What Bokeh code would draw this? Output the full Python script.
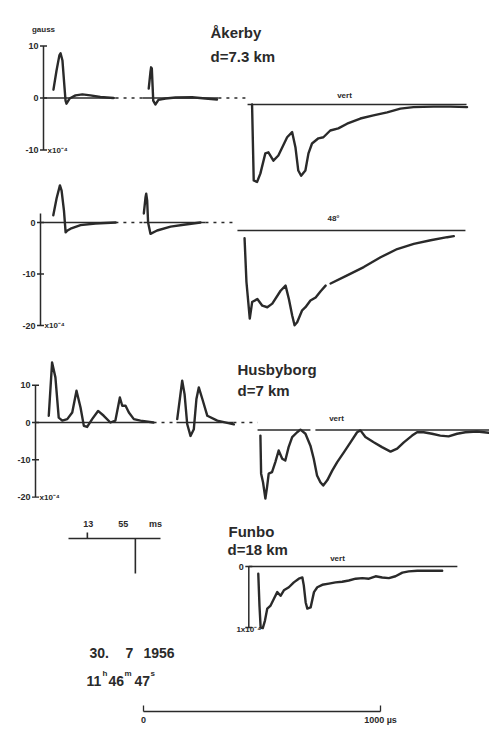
import numpy as np
from bokeh.plotting import figure
from bokeh.models import Range1d, LinearAxis, FixedTicker
from bokeh.core.properties import value
from bokeh.embed import file_html
from bokeh.resources import INLINE

nan = float("nan")

# ---------------- data: time in µs from onset of each record, field in 1e-4 gauss ----------------
# Åkerby, d = 7.3 km, vertical component
AK_P1_T = [0, 13, 25, 30, 38, 46, 51, 55, 68, 93, 122, 156, 198, 253]
AK_P1_V = [1.6, 5.3, 8.2, 8.6, 7.2, 2.4, -0.5, -1.1, -0.1, 0.5, 0.7, 0.5, 0.2, 0]
AK_P2_T = [0, 7, 10, 13, 19, 28, 41, 71, 113, 183, 239, 288]
AK_P2_V = [1.8, 4.9, 5.9, 5.7, -0.5, -1.25, -0.35, -0.1, 0.1, 0.15, -0.1, -0.3]
AK_MAIN_T = [0, 7, 21, 35, 56, 69, 90, 111, 148, 169, 183, 195, 207, 225, 238, 253, 280, 301,
             330, 364, 401, 457, 512, 570, 626, 681, 765, 837, 907]
AK_MAIN_V = [0, -14.6, -14.9, -13.3, -9.4, -9.2, -10.8, -9.8, -6.3, -5.3, -8.2, -12.7, -13.7, -12.7,
             -9.4, -7.5, -6.5, -6.3, -5.0, -4.6, -3.7, -2.7, -2.1, -1.5, -0.8, -0.5, -0.4, -0.4, -0.5]

# Åkerby, 48° component
AH_P1_T = [0, 14, 28, 35, 45, 52, 60, 73, 115, 178, 263]
AH_P1_V = [1.4, 4.7, 7.2, 6.2, 2.3, -1.9, -1.55, -1.2, -0.5, -0.2, 0]
AH_P2_T = [0, 7, 10, 14, 18, 28, 56, 113, 176, 239]
AH_P2_V = [1.75, 4.85, 5.6, 4.3, 0, -2.2, -1.55, -0.8, -0.4, 0]
AH_MAIN_T = [0, 8, 22, 32, 54, 75, 96, 117, 152, 173, 187, 201, 211, 222, 243, 257, 278, 300, 321, 342,
             nan, 363, 433, 503, 574, 644, 714, 785, 855, 883]
AH_MAIN_V = [-1.5, -10.0, -17.1, -13.9, -13.3, -14.6, -14.9, -14.2, -11.7, -10.7, -13.3, -16.5, -18.4,
             -17.8, -15.5, -14.9, -13.6, -13.0, -11.8, -10.7, nan, -10.3, -8.7, -7.1, -5.2, -3.6, -2.6,
             -1.9, -1.3, -1.1]

# Husbyborg, d = 7 km, vertical
HU_P1_T = [0, 14, 28, 42, 57, 78, 99, 117, 134, 148, 162, 183, 208, 232, 260, 281, 300, 310, 324, 338,
           359, 387, 442]
HU_P1_V = [1.8, 16.1, 12.1, 1.3, 0.5, 0.9, 2.7, 8.5, 4.0, -0.9, -1.2, 0.9, 3.1, 1.8, 0, 0.5, 6.7, 4.5,
           4.5, 2.7, 0.9, 0.5, 0]
HU_P2_T = [0, 21, 31, 42, 56, 70, 81, 91, 106, 127, 169, 239]
HU_P2_V = [0.9, 11.2, 7.6, -0.4, -3.6, -1.8, 6.3, 9.4, 6.3, 1.8, 0.5, -0.5]
HU_MAIN_T = [0, 3, 11, 21, 28, 35, 49, 63, 77, 92, 105, 119, 134, 155, 169, 190, 211, 225, 239, 253,
             265, 282, 303, 324, 352, 380, 408, 422, 443, 478, 513, 549, 577, 605, 640, 661, 689, 724,
             759, 794, 830, 865, 914, 963]
HU_MAIN_V = [-1.5, -11.7, -14.0, -18.4, -15.3, -11.7, -11.3, -8.6, -5.5, -7.7, -8.2, -4.6, -1.9, -0.6,
             0.1, -1.0, -4.2, -7.7, -12.2, -14.0, -14.9, -13.5, -10.9, -8.6, -6.0, -3.3, -0.6, -0.1,
             -1.9, -3.3, -4.6, -5.8, -5.0, -3.3, -1.5, -0.6, -0.6, -1.0, -1.5, -1.7, -1.0, -0.6, -0.4,
             -0.75]

# Funbo, d = 18 km, vertical
FU_T = [0, 5, 10, 19, 28, 38, 52, 66, 80, 94, 108, 129, 150, 171, 186, 192, 200, 207, 221, 235, 249,
        270, 298, 326, 354, 382, 411, 439, 467, 495, 523, 551, 579, 608, 635, 671, 720, 776]
FU_V = [-0.12, -0.64, -1.0, -1.01, -0.89, -0.69, -0.64, -0.53, -0.42, -0.48, -0.39, -0.34, -0.26, -0.20,
        -0.18, -0.31, -0.59, -0.69, -0.67, -0.42, -0.34, -0.30, -0.28, -0.26, -0.25, -0.23, -0.20,
        -0.19, -0.20, -0.16, -0.18, -0.19, -0.16, -0.10, -0.08, -0.07, -0.07, -0.07]

# timing inset (ms)
INSET_EVENTS_MS = [13, 55]
INSET_EVENT_AMP = [0.17, -1.0]
INSET_LABELS = ["13", "55"]

# axes tick values / labels
AK_TICKS, AK_TICK_LABELS = [10, 0, -10], ["10", "0", "-10"]
AH_TICKS, AH_TICK_LABELS = [0, -10, -20], ["0", "-10", "-20"]
HU_TICKS, HU_TICK_LABELS = [10, 0, -10, -20], ["10", "0", "-10", "-20"]
FU_TICKS, FU_TICK_LABELS = [0, -1], ["0", ""]
BAR_TICKS = [0, 1000]

# ---------------- layout ----------------
W, H = 489, 733
FH = 711                 # frame height; the scale bar axis sits below
PX_PER_US = 0.237        # 1000 µs on the scale bar
PX_PER_MS_INSET = 1.143

INK = "#2a2a2a"
FONT_NAME = "Liberation Sans"
FONT = value(FONT_NAME)

p = figure(width=W, height=H, output_backend="svg", toolbar_location=None,
           x_range=Range1d(0, W), y_range=Range1d(FH, 0),
           x_axis_location=None, y_axis_location=None,
           min_border_left=0, min_border_right=0, min_border_top=0, min_border_bottom=H - FH,
           outline_line_color=None, background_fill_color="white", border_fill_color="white")
p.xgrid.grid_line_color = None
p.ygrid.grid_line_color = None
p.xgrid.visible = False
p.ygrid.visible = False

# panel placement: (x pixel of the y axis, pixel of zero line, pixels per unit)
xr, yr = {}, {}
def xrange(name, axis_px, per=PX_PER_US):
    xr[name] = Range1d(-axis_px / per, (W - axis_px) / per)
def yrange(name, base_px, per):
    yr[name] = Range1d((base_px - FH) / per, base_px / per)

xrange("ak", 43);    yrange("ak", 97.5, 5.2);  yrange("ak_main", 104, 5.2)
xrange("ah", 40);    yrange("ah", 222, 5.15);  yrange("ah_main", 230, 5.15)
xrange("hu", 35);    yrange("hu", 422, 3.73);  yrange("hu_main", 429.5, 3.73)
xrange("fu", 248.3); yrange("fu", 566, 61)
xrange("inset", 72, PX_PER_MS_INSET); yrange("inset", 538, 35)
xrange("bar", 143)
p.extra_x_ranges = xr
p.extra_y_ranges = yr


def trace(t, v, at, xn, yn, width=2.4):
    p.line(x=np.asarray(t, float) + at, y=v, x_range_name=xn, y_range_name=yn,
           line_color=INK, line_width=width, line_join="round", line_cap="round")


def hline(t0, t1, xn, yn, dash="solid", width=1.4):
    p.line(x=[t0, t1], y=[0, 0], x_range_name=xn, y_range_name=yn,
           line_color=INK, line_width=width, line_dash=dash)


def vaxis(xn, yn, top, bottom, ticks, labels, unit=None, fs="9px"):
    p.line(x=[0, 0], y=[top, bottom], x_range_name=xn, y_range_name=yn, line_color=INK, line_width=1.5)
    p.scatter(x=[0] * len(ticks), y=ticks, marker="dash", size=7, line_color=INK, line_width=1.4,
              x_range_name=xn, y_range_name=yn)
    p.text(x=[0] * len(ticks), y=ticks, text=labels, x_offset=-5, text_align="right",
           text_baseline="middle", text_font=FONT, text_font_size=fs, text_font_style="bold",
           text_color=INK, x_range_name=xn, y_range_name=yn)
    if unit:
        p.text(x=[0], y=[bottom], text=[unit], x_offset=4, text_align="left", text_baseline="middle",
               text_font=FONT, text_font_size="8px", text_font_style="bold", text_color=INK,
               x_range_name=xn, y_range_name=yn)


def label(x, y, s, size="15px", align="left", style="bold"):
    p.text(x=[x], y=[y], text=[s], text_align=align, text_baseline="middle", text_font=FONT,
           text_font_size=size, text_font_style=style, text_color=INK)

# ---- Åkerby vert ----
vaxis("ak", "ak", 10, -10, AK_TICKS, AK_TICK_LABELS, unit="x10⁻⁴")
p.text(x=[0], y=[10], text=["gauss"], y_offset=-17, text_align="center", text_baseline="middle",
       text_font=FONT, text_font_size="8px", text_font_style="bold", text_color=INK,
       x_range_name="ak", y_range_name="ak")
hline(0, 304, "ak", "ak")
hline(304, 418, "ak", "ak", dash="3 5")
hline(418, 738, "ak", "ak")
hline(738, 865, "ak", "ak", dash="3 5")
hline(861, 1785, "ak", "ak_main", width=1.6)
trace(AK_P1_T, AK_P1_V, 42, "ak", "ak")
trace(AK_P2_T, AK_P2_V, 444, "ak", "ak")
trace(AK_MAIN_T, AK_MAIN_V, 880, "ak", "ak_main")

# ---- Åkerby 48° ----
vaxis("ah", "ah", 1.75, -20, AH_TICKS, AH_TICK_LABELS, unit="x10⁻⁴")
hline(0, 316, "ah", "ah")
hline(316, 435, "ah", "ah", dash="3 5")
hline(435, 696, "ah", "ah")
hline(696, 831, "ah", "ah", dash="3 5")
hline(831, 1793, "ah", "ah_main", width=1.6)
trace(AH_P1_T, AH_P1_V, 54, "ah", "ah")
trace(AH_P2_T, AH_P2_V, 436, "ah", "ah")
trace(AH_MAIN_T, AH_MAIN_V, 861, "ah", "ah_main")

# ---- Husbyborg ----
vaxis("hu", "hu", 10, -20, HU_TICKS, HU_TICK_LABELS, unit="x10⁻⁴")
hline(0, 498, "hu", "hu")
hline(498, 595, "hu", "hu", dash="3 5")
hline(595, 835, "hu", "hu")
hline(835, 937, "hu", "hu", dash="3 5")
hline(937, 1160, "hu", "hu_main")
hline(1181, 1920, "hu", "hu_main")
trace(HU_P1_T, HU_P1_V, 56, "hu", "hu")
trace(HU_P2_T, HU_P2_V, 598, "hu", "hu")
trace(HU_MAIN_T, HU_MAIN_V, 949, "hu", "hu_main")

# ---- Funbo ----
vaxis("fu", "fu", 0, -1, FU_TICKS, FU_TICK_LABELS)
p.text(x=[0], y=[-1], text=["1x10⁻⁴"], y_offset=2, text_align="center", text_baseline="middle",
       text_font=FONT, text_font_size="8px", text_font_style="bold", text_color=INK,
       x_range_name="fu", y_range_name="fu")
hline(0, 880, "fu", "fu", width=1.6)
trace(FU_T, FU_V, 40, "fu", "fu")

# ---- timing inset ----
hline(-3.5, 77, "inset", "inset", width=1.3)
p.segment(x0=INSET_EVENTS_MS, y0=[0, 0], x1=INSET_EVENTS_MS, y1=INSET_EVENT_AMP,
          x_range_name="inset", y_range_name="inset", line_color=INK, line_width=1.6)
p.text(x=INSET_EVENTS_MS, y=[0, 0], text=INSET_LABELS, x_offset=[1, -12], y_offset=-15,
       text_align="center", text_baseline="middle", text_font=FONT, text_font_size="9px",
       text_font_style="bold", text_color=INK, x_range_name="inset", y_range_name="inset")
label(155, 523, "ms", size="9px", align="center")

# ---- titles / annotations ----
label(210, 32, "Åkerby")
label(210, 56, "d=7.3  km")
label(237, 369, "Husbyborg")
label(237, 390, "d=7  km")
label(228, 531, "Funbo")
label(227, 549, "d=18 km")
label(344, 95, "vert", size="8px", align="center")
label(333, 218, "48°", size="8px", align="center")
label(336, 418, "vert", size="8px", align="center")
label(337, 558, "vert", size="8px", align="center")

label(89, 652, "30.", size="14px")
label(125, 652, "7", size="14px")
label(143, 652, "1956", size="14px")
label(86, 680, "11", size="14px")
label(102, 673, "h", size="8px")
label(108, 680, "46", size="14px")
label(124, 673, "m", size="8px")
label(134, 680, "47", size="14px")
label(150, 673, "s", size="8px")

# ---- 1000 µs scale bar (real axis) ----
bar = LinearAxis(x_range_name="bar", bounds=(0, 1000), ticker=FixedTicker(ticks=BAR_TICKS),
                 major_label_overrides={1000: "1000 µs"}, major_tick_in=6, major_tick_out=0,
                 minor_tick_line_color=None, axis_line_color=INK, axis_line_width=1.3,
                 major_tick_line_color=INK, major_tick_line_width=1.3, major_label_standoff=3,
                 major_label_text_font=FONT_NAME, major_label_text_font_size="9px",
                 major_label_text_font_style="bold", major_label_text_color=INK)
p.add_layout(bar, "below")

open("out.html", "w").write(file_html(p, INLINE))
